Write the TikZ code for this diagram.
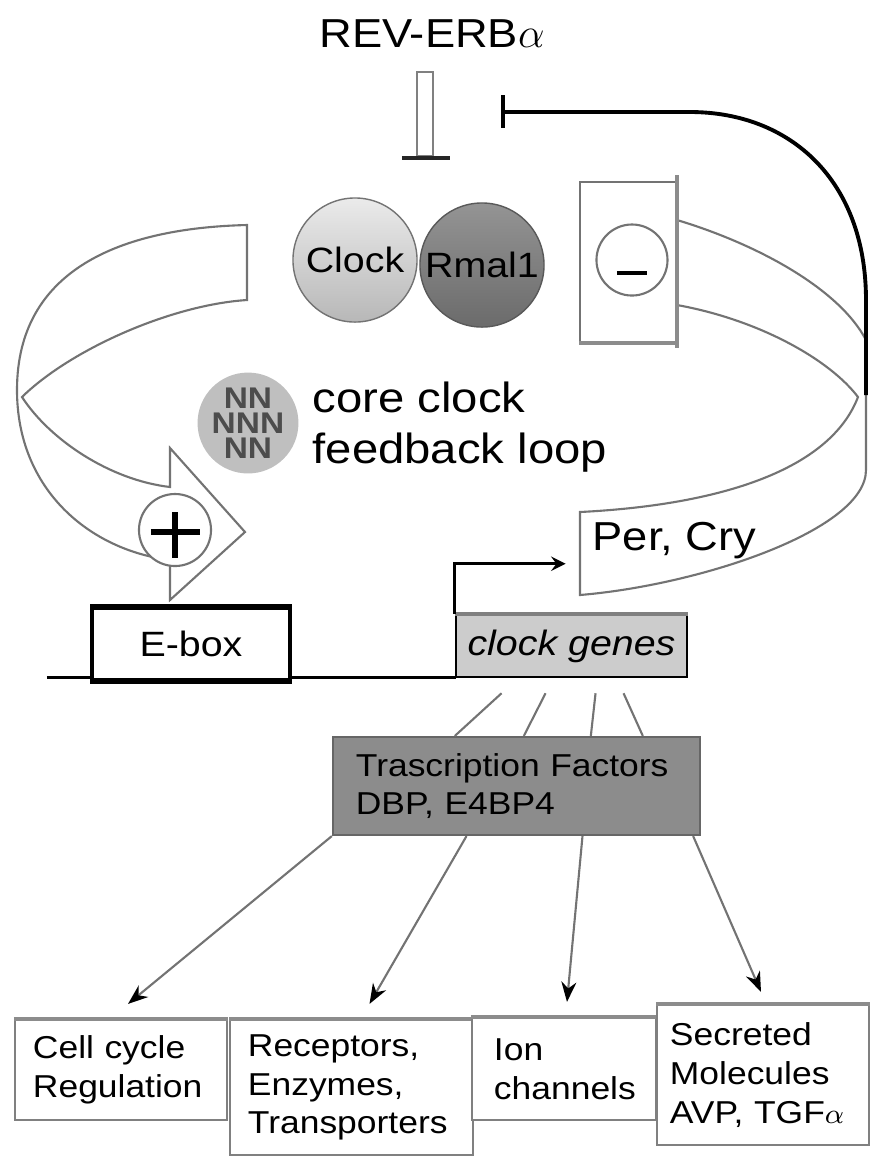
\documentclass[tikz,border=0pt]{standalone}
\usepackage{fontspec}
\setmainfont{Liberation Sans}[FakeStretch=1.12]
\usetikzlibrary{calc,arrows.meta}

\begin{document}
\begin{tikzpicture}[x=0.01cm,y=-0.01cm,
	edge/.style={draw=black!55,line width=0.6pt},
	outbox/.style={draw=black!50,line width=0.6pt,fill=white,inner xsep=0.1cm,align=left,font=\fontsize{9}{11}\selectfont}]
	\useasboundingbox (0,0) rectangle (871,1156);
	% left loop with the + head
	\draw[edge,fill=white] (247,225) .. controls (120,228) and (17,270) .. (17,390)
	.. controls (17,490) and (90,550) .. (170,560) -- (170,600) -- (245,532) -- (170,448) -- (170,487)
	.. controls (110,480) and (50,440) .. (22,397) .. controls (70,350) and (170,305) .. (247,300) -- cycle;
	% right loop from Per, Cry
	\draw[edge,fill=white] (677,220) .. controls (760,245) and (840,290) .. (866,340) -- (866,470)
	.. controls (866,530) and (700,585) .. (580,595) -- (580,512)
	.. controls (720,505) and (830,470) .. (858,397) .. controls (830,360) and (760,320) .. (677,305) -- cycle;
	% REV-ERB
	\path (432,34) node[font=\fontsize{11.5}{14}\selectfont] (rev) {REV-ERB$\alpha$};
	\draw[black!50,line width=0.5pt,fill=white] (417,72) rectangle (433,156);
	\draw[black!85,line width=1.2pt] (402,158) -- (450,158);
	\draw[line width=1.1pt] (866,395) -- (866,300) .. controls (866,180) and (790,112) .. (690,112) -- (503,112);
	\draw[line width=1.4pt] (503,95) -- (503,128);
	% minus end
	\path (628.5,262) node[edge,fill=white,minimum width=0.97cm,minimum height=1.6cm] (mbox) {};
	\draw[black!45,line width=1.2pt] (677,175) -- (677,348) (mbox.south west) -- (mbox.south east);
	\path (632,260) node[edge,circle,minimum size=0.71cm] (minus) {};
	\draw[line width=1.4pt] ($(minus)+(-15,13)$) -- ($(minus)+(15,13)$);
	% plus head
	\path (175,530) node[edge,circle,fill=white,minimum size=0.72cm] (plus) {};
	\draw[line width=1.5pt] ($(plus)+(-24,2)$) -- ($(plus)+(25,2)$)
	($(plus)+(0,-18)$) -- ($(plus)+(0,28)$);
	% Clock : Bmal
	\path (355,260) node[circle,draw=black!55,top color=black!8,bottom color=black!28,minimum size=1.24cm,inner sep=0pt,font=\fontsize{10}{12}\selectfont] (clock) {Clock};
	\path (482,265) node[circle,draw=black!65,top color=black!42,bottom color=black!58,minimum size=1.24cm,inner sep=0pt,font=\fontsize{10}{12}\selectfont] (bmal) {Rmal1};
	% core loop label
	\path (248,423) node[circle,fill=black!25,minimum size=0.96cm,inner sep=0pt,text=black!70,align=center,font=\bfseries\fontsize{8.5}{7.1}\selectfont] (dna) {NN\\NNN\\NN};
	\path (312,412) node[anchor=base west,inner sep=0pt,font=\fontsize{12}{14}\selectfont] (core) {core clock};
	\path (312,463) node[anchor=base west,inner sep=0pt,font=\fontsize{12}{14}\selectfont] (loop) {feedback loop};
	\path (592,550) node[anchor=base west,inner sep=0pt,font=\fontsize{11.5}{14}\selectfont] (percry) {Per, Cry};
	% DNA
	\draw[line width=0.85pt] (47,677) -- (456,677);
	\path (191,644) node[draw,line width=0.9pt,fill=white,minimum width=1.98cm,minimum height=0.72cm,font=\fontsize{10}{12}\selectfont] (ebox) {E-box};
	\draw[line width=1.5pt] (ebox.north west) -- (ebox.north east) (ebox.south west) -- (ebox.south east);
	\path (571.5,646) node[draw,line width=0.7pt,fill=black!20,minimum width=2.31cm,minimum height=0.62cm,font=\itshape\fontsize{10}{12}\selectfont] (genes) {clock genes};
	\draw[black!50,line width=1.2pt] (genes.north west) -- (genes.north east);
	\draw[line width=0.8pt,-stealth] (genes.north west) -- ++(0,-50) -- ++(111,0);
	% output
	\path (516.5,786) node[draw=black!60,fill=black!45,line width=0.6pt,minimum width=3.67cm,minimum height=0.98cm,inner xsep=0.23cm,text width=3.21cm,align=left,font=\fontsize{9}{11}\selectfont] (tf) {Trascription Factors\\DBP, E4BP4};
	\foreach \a/\b in {47/123,91/192,141/259,169/311}
	\draw[edge] ($(genes.south west)+(\a,15)$) -- ($(tf.north west)+(\b,0)$);
	\foreach \n/\x/\y/\w/\h/\tw/\t in {
	cell/121/1070/2.12/1.00/1.76/{Cell cycle\\Regulation},
	recep/351.5/1087.5/2.43/1.35/2.07/{Receptors,\\Enzymes,\\Transporters},
	ion/564/1069/1.84/1.02/1.40/{Ion\\channels},
	sec/763/1075/2.12/1.40/1.86/{Secreted\\Molecules\\AVP, TGF{\fontsize{8}{10}\selectfont$\alpha$}}}
	{\path (\x,\y) node[outbox,minimum width=\w cm,minimum height=\h cm,text width=\tw cm] (\n) {\t};
	\draw[black!45,line width=1.2pt] (\n.north west) -- (\n.north east);}
	\draw[edge,-{Stealth[black]}] (tf.south west) -- ($(cell.north)+(7,-15)$);
	\draw[edge,-{Stealth[black]}] ($(tf.south)+(-50,0)$) -- ($(recep.north)+(18,-15)$);
	\draw[edge,-{Stealth[black]}] ($(tf.south)+(66,0)$) -- ($(ion.north)+(3,-15)$);
	\draw[edge,-{Stealth[black]}] ($(tf.south east)+(-8,0)$) -- ($(sec.north)+(-2,-12)$);
\end{tikzpicture}
\end{document}
